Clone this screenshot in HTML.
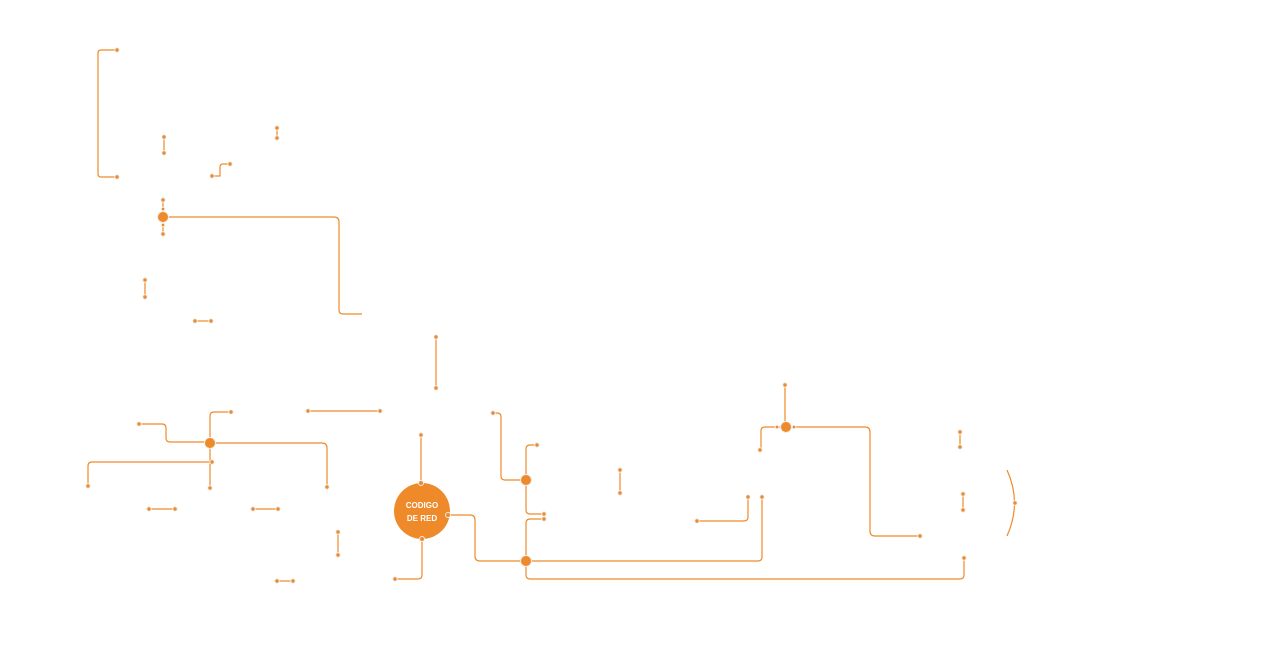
<!DOCTYPE html>
<html><head><meta charset="utf-8"><style>
html,body{margin:0;padding:0;background:#fff;width:1280px;height:656px;overflow:hidden}
svg{display:block}
</style></head><body>
<svg width="1280" height="656" viewBox="0 0 1280 656" xmlns="http://www.w3.org/2000/svg">
<g fill="none" stroke="#ee8a2a" stroke-width="1.2">
<path d="M117,50 H101 Q98,50 98,53 V174 Q98,177 101,177 H117"/>
<path d="M164,137 V153"/>
<path d="M277,128 V138"/>
<path d="M212,176 H220 V167 Q220,164 223,164 H230"/>
<path d="M163,200 V234"/>
<path d="M163,217 H334 Q339,217 339,222 V310 Q339,314 343,314 H362"/>
<path d="M145,280 V297"/>
<path d="M195,321 H211"/>
<path d="M436,337 V388"/>
<path d="M139,424 H162 Q166,424 166,428 V438 Q166,442 170,442 H210"/>
<path d="M210,443 V416 Q210,412 214,412 H231"/>
<path d="M210,443 V488"/>
<path d="M210,443 H322 Q327,443 327,448 V487"/>
<path d="M212,462 H92 Q88,462 88,466 V486"/>
<path d="M308,411 H380"/>
<path d="M149,509 H175"/>
<path d="M253,509 H278"/>
<path d="M338,532 V555"/>
<path d="M277,581 H293"/>
<path d="M421,435 V483"/>
<path d="M422,539 V575 Q422,579 418,579 H395"/>
<path d="M448,515 H470 Q475,515 475,520 V556 Q475,561 480,561 H526"/>
<path d="M493,413 H497 Q501,413 501,417 V476 Q501,480 505,480 H526"/>
<path d="M526,480 V449 Q526,445 530,445 H537"/>
<path d="M526,480 V510 Q526,514 530,514 H544"/>
<path d="M526,561 V523 Q526,519 530,519 H544"/>
<path d="M526,561 H758 Q762,561 762,557 V497"/>
<path d="M526,561 V575 Q526,579 530,579 H960 Q964,579 964,575 V558"/>
<path d="M620,470 V493"/>
<path d="M697,521 H744 Q748,521 748,517 V497"/>
<path d="M785,385 V427"/>
<path d="M786,427 H765 Q761,427 761,431 V449"/>
<path d="M786,427 H865 Q870,427 870,432 V531 Q870,536 875,536 H920"/>
<path d="M960,432 V447"/>
<path d="M963,494 V510"/>
<path d="M1007,470 Q1022,503 1007,536"/>
</g>
<g fill="#ee8a2a" stroke="#eee" stroke-width="1">
<circle cx="117" cy="50" r="2.2"/><circle cx="117" cy="177" r="2.2"/>
<circle cx="164" cy="137" r="2.2"/><circle cx="164" cy="153" r="2.2"/>
<circle cx="277" cy="128" r="2.2"/><circle cx="277" cy="138" r="2.2"/>
<circle cx="212" cy="176" r="2.2"/><circle cx="230" cy="164" r="2.2"/>
<circle cx="163" cy="200" r="2.2"/><circle cx="163" cy="234" r="2.2"/>
<circle cx="163" cy="209" r="1.8"/><circle cx="163" cy="225" r="1.8"/>
<circle cx="145" cy="280" r="2.2"/><circle cx="145" cy="297" r="2.2"/>
<circle cx="195" cy="321" r="2.2"/><circle cx="211" cy="321" r="2.2"/>
<circle cx="436" cy="337" r="2.2"/><circle cx="436" cy="388" r="2.2"/>
<circle cx="139" cy="424" r="2.2"/><circle cx="231" cy="412" r="2.2"/>
<circle cx="210" cy="488" r="2.2"/><circle cx="327" cy="487" r="2.2"/>
<circle cx="212" cy="462" r="2.2"/><circle cx="88" cy="486" r="2.2"/>
<circle cx="308" cy="411" r="2.2"/><circle cx="380" cy="411" r="2.2"/>
<circle cx="149" cy="509" r="2.2"/><circle cx="175" cy="509" r="2.2"/>
<circle cx="253" cy="509" r="2.2"/><circle cx="278" cy="509" r="2.2"/>
<circle cx="338" cy="532" r="2.2"/><circle cx="338" cy="555" r="2.2"/>
<circle cx="277" cy="581" r="2.2"/><circle cx="293" cy="581" r="2.2"/>
<circle cx="421" cy="435" r="2.2"/><circle cx="395" cy="579" r="2.2"/>
<circle cx="493" cy="413" r="2.2"/><circle cx="537" cy="445" r="2.2"/>
<circle cx="544" cy="514" r="2.2"/><circle cx="544" cy="519" r="2.2"/>
<circle cx="762" cy="497" r="2.2"/><circle cx="964" cy="558" r="2.2"/>
<circle cx="620" cy="470" r="2.2"/><circle cx="620" cy="493" r="2.2"/>
<circle cx="697" cy="521" r="2.2"/><circle cx="748" cy="497" r="2.2"/>
<circle cx="785" cy="385" r="2.2"/><circle cx="760" cy="450" r="2.2"/>
<circle cx="777" cy="427" r="1.8"/><circle cx="794" cy="427" r="1.8"/>
<circle cx="920" cy="536" r="2.2"/>
<circle cx="960" cy="432" r="2.2"/><circle cx="960" cy="447" r="2.2"/>
<circle cx="963" cy="494" r="2.2"/><circle cx="963" cy="510" r="2.2"/>
<circle cx="1015" cy="503" r="2.2"/>
<circle cx="163" cy="217" r="5.5"/>
<circle cx="210" cy="443" r="5.5"/>
<circle cx="526" cy="480" r="5.5"/>
<circle cx="526" cy="561" r="5.5"/>
<circle cx="786" cy="427" r="5.5"/>
<circle cx="422" cy="511" r="28" stroke="none"/>
<circle cx="421" cy="483" r="2.5"/><circle cx="422" cy="539" r="2.5"/><circle cx="448" cy="515" r="2.5"/>
</g>
<text x="422" y="508" font-family="Liberation Sans, sans-serif" font-size="8" font-weight="bold" fill="#fff" text-anchor="middle">CODIGO</text>
<text x="422" y="521" font-family="Liberation Sans, sans-serif" font-size="8" font-weight="bold" fill="#fff" text-anchor="middle">DE RED</text>
</svg>
</body></html>
